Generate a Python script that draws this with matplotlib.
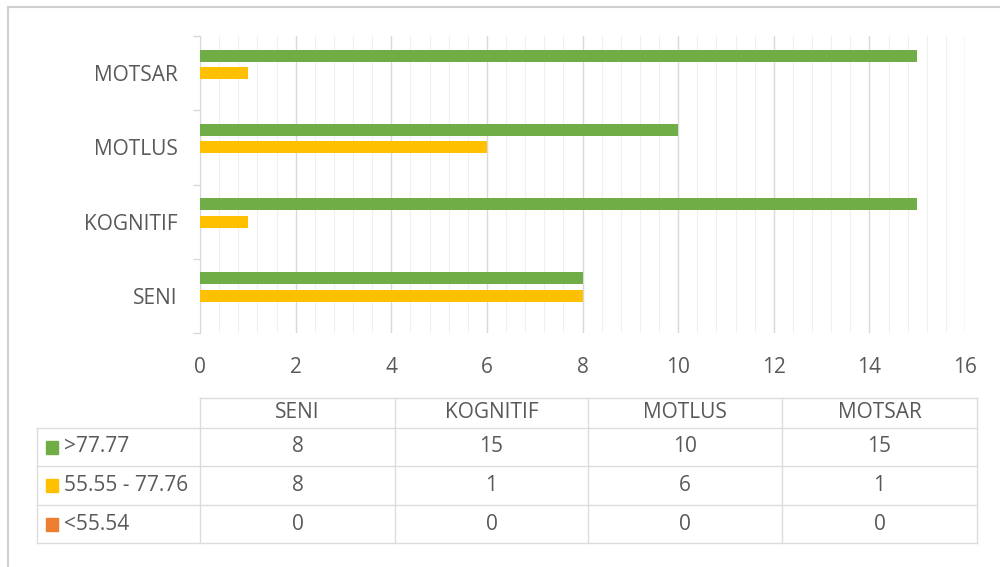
import matplotlib
matplotlib.use("Agg")
import matplotlib.pyplot as plt
from matplotlib.patches import Rectangle
import numpy as np

categories = ["SENI", "KOGNITIF", "MOTLUS", "MOTSAR"]
series_names = [">77.77", "55.55 - 77.76", "<55.54"]
high = [8, 15, 10, 15]
mid = [8, 1, 6, 1]
low = [0, 0, 0, 0]
series_values = [high, mid, low]
colors = ["#70AD47", "#FFC000", "#ED7D31"]
xticks = [0, 2, 4, 6, 8, 10, 12, 14, 16]

TXT = "#595959"
GRID = "#d9d9d9"
FONT = ["Open Sans", "DejaVu Sans"]
plt.rcParams['font.family'] = FONT
FS = 15

W, H = 1000, 567
fig = plt.figure(figsize=(W / 100, H / 100), dpi=100)
fig.patch.set_facecolor("white")

# plot area
x0, x1, y0, y1 = 200, 965, 36, 333
ax = fig.add_axes([x0 / W, 1 - y1 / H, (x1 - x0) / W, (y1 - y0) / H])
ax.set_xlim(0, 16)
ax.set_ylim(-0.5, 3.5)

ypos = np.arange(len(categories))
offsets = [0.235, 0.0, -0.235]
for vals, off, c in zip(series_values, offsets, colors):
    ax.barh(ypos + off, vals, height=0.16, color=c, zorder=3)

ax.set_xticks(xticks)
ax.set_xticks(np.arange(0, 16.01, 0.4), minor=True)
ax.grid(axis="x", which="major", color=GRID, linewidth=1.0, zorder=0)
ax.grid(axis="x", which="minor", color="#efefef", linewidth=0.8, zorder=0)
ax.tick_params(axis="x", which="both", length=0, labelsize=FS, colors=TXT, pad=17)
ax.set_yticks(ypos)
ax.set_yticklabels(categories)
ax.tick_params(axis="y", which="major", length=0, labelsize=FS, colors=TXT, pad=16)
ax.set_yticks(np.arange(-0.5, 3.51, 1.0), minor=True)
ax.tick_params(axis="y", which="minor", length=5, color=GRID, width=1)
for s in ["top", "right", "bottom"]:
    ax.spines[s].set_visible(False)
ax.spines["left"].set_color(GRID)
ax.set_axisbelow(True)

# overlay for table and border
ov = fig.add_axes([0, 0, 1, 1], zorder=-1)
ov.set_xlim(0, W)
ov.set_ylim(H, 0)
ov.axis("off")
ov.patch.set_alpha(0)

# outer border (left & top)
ov.plot([8, 8], [H, 7], color="#d0d0d0", lw=1.5)
ov.plot([8, W], [7, 7], color="#d0d0d0", lw=1.5)

cols = [37, 200, 395, 588, 782, 977]
rows = [398, 428, 466, 505, 543]
lc = "#dcdcdc"
ov.plot([cols[1], cols[-1]], [rows[0], rows[0]], color=lc, lw=1)
for r in rows[1:]:
    ov.plot([cols[0], cols[-1]], [r, r], color=lc, lw=1)
ov.plot([cols[0], cols[0]], [rows[1], rows[-1]], color=lc, lw=1)
for c in cols[1:]:
    ov.plot([c, c], [rows[0], rows[-1]], color=lc, lw=1)

for j, cat in enumerate(categories):
    cx = (cols[j + 1] + cols[j + 2]) / 2
    ov.text(cx, (rows[0] + rows[1]) / 2, cat, ha="center", va="center",
            fontsize=FS, color=TXT)
for i, (name, vals, c) in enumerate(zip(series_names, series_values, colors)):
    cy = (rows[i + 1] + rows[i + 2]) / 2
    ov.add_patch(Rectangle((46, cy - 6.5), 12, 13, color=c))
    ov.text(64, cy, name, ha="left", va="center", fontsize=FS, color=TXT)
    for j, v in enumerate(vals):
        cx = (cols[j + 1] + cols[j + 2]) / 2
        ov.text(cx, cy, str(v), ha="center", va="center", fontsize=FS, color=TXT)

fig.savefig("out.png", dpi=100, facecolor="white")
